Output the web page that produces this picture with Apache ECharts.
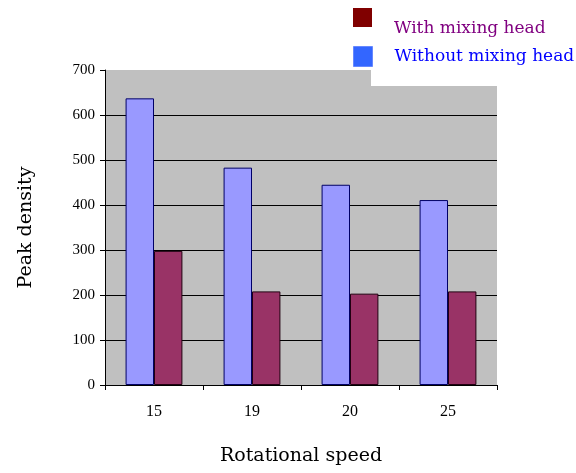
<!DOCTYPE html>
<html>
<head>
<meta charset="utf-8">
<script src="https://cdn.jsdelivr.net/npm/echarts@6/dist/echarts.min.js"></script>
<style>
html,body{margin:0;padding:0;background:#fff;}
#chart{width:576px;height:473px;}
</style>
</head>
<body>
<div id="chart"></div>
<script>
const categories = ['15', '19', '20', '25'];
const withoutHead = [637, 483, 445, 411];
const withHead = [298, 208, 203, 208];
const yTicks = [0, 100, 200, 300, 400, 500, 600, 700];

const FONT = '"DejaVu Serif", "Liberation Serif", serif';
const NUMFONT = '"Liberation Serif", "DejaVu Serif", serif';
const chart = echarts.init(document.getElementById('chart'));
chart.setOption({
  animation: false,
  backgroundColor: '#ffffff',
  grid: { left: 105, right: 79, top: 70, bottom: 88, show: true, backgroundColor: '#c0c0c0', borderWidth: 0, outerBoundsMode: 'none', containLabel: false },
  graphic: [
    { type: 'rect', shape: { x: 371, y: 0, width: 205, height: 86 }, style: { fill: '#ffffff' }, z: 10 }
  ],
  legend: [
    {
      data: [{ name: 'With mixing head', itemStyle: { color: '#800000', borderWidth: 0 } }],
      left: 348, top: 3, itemWidth: 19, itemHeight: 42, itemGap: 0, z: 20,
      icon: 'path://M0,0H19V19H0Z M0,42L0.001,42L0,42Z',
      textStyle: { fontFamily: FONT, fontSize: 17, color: '#800080', padding: [0, 0, 0, 17] }
    },
    {
      data: [{ name: 'Without mixing head', itemStyle: { color: '#3366ff', borderColor: '#6688ff', borderWidth: 1 } }],
      left: 348, top: 41, itemWidth: 19, itemHeight: 20, itemGap: 0, icon: 'rect', z: 20,
      textStyle: { fontFamily: FONT, fontSize: 17, color: '#0000ff', padding: [0, 0, 0, 17] }
    }
  ],
  xAxis: {
    type: 'category',
    data: categories,
    name: 'Rotational speed',
    nameLocation: 'middle',
    nameGap: 62,
    nameTextStyle: { fontFamily: FONT, fontSize: 19, color: '#000' },
    axisLine: { lineStyle: { color: '#000', width: 1 } },
    axisTick: { show: true, length: 5, lineStyle: { color: '#000' } },
    axisLabel: { fontFamily: NUMFONT, fontSize: 16, color: '#000', margin: 19 },
    splitLine: { show: false }
  },
  yAxis: {
    type: 'value',
    min: 0, max: 700, interval: 100,
    name: 'Peak density',
    nameLocation: 'middle',
    nameGap: 69,
    nameTextStyle: { fontFamily: FONT, fontSize: 19, color: '#000' },
    axisLine: { show: true, lineStyle: { color: '#000', width: 1 } },
    axisTick: { show: true, length: 5, lineStyle: { color: '#000' } },
    axisLabel: { fontFamily: NUMFONT, fontSize: 15, color: '#000', margin: 10,
      formatter: v => yTicks.includes(v) ? String(v) : '' },
    splitLine: { show: true, showMaxLine: false, lineStyle: { color: '#000', width: 1 } }
  },
  series: [
    {
      name: 'Without mixing head', type: 'bar', data: withoutHead,
      barGap: '0%', barCategoryGap: '42%',
      itemStyle: { color: '#9999ff', borderColor: '#000066', borderWidth: 1 }
    },
    {
      name: 'With mixing head', type: 'bar', data: withHead,
      itemStyle: { color: '#993366', borderColor: '#220011', borderWidth: 1 }
    }
  ]
});
</script>
</body>
</html>
